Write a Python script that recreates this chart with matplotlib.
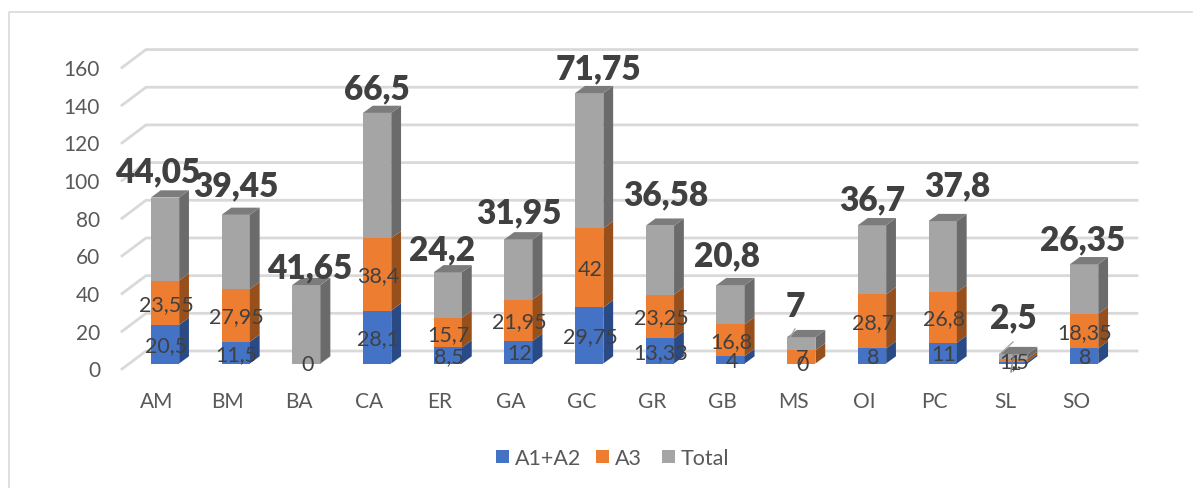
import matplotlib
matplotlib.use('Agg')
import matplotlib.pyplot as plt
from matplotlib.patches import Polygon, Rectangle

# Data
categories = ['AM', 'BM', 'BA', 'CA', 'ER', 'GA', 'GC', 'GR', 'GB', 'MS', 'OI', 'PC', 'SL', 'SO']
a1a2 = [20.5, 11.5, 0, 28.1, 8.5, 12, 29.75, 13.33, 4, 0, 8, 11, 1, 8]
a3 = [23.55, 27.95, 0, 38.4, 15.7, 21.95, 42, 23.25, 16.8, 7, 28.7, 26.8, 1.5, 18.35]
total = [44.05, 39.45, 41.65, 66.5, 24.2, 31.95, 71.75, 36.58, 20.8, 7, 36.7, 37.8, 2.5, 26.35]
a1a2_labels = ['20,5', '11,5', '', '28,1', '8,5', '12', '29,75', '13,33', '4', '0', '8', '11', '1', '8']
a3_labels = ['23,55', '27,95', '0', '38,4', '15,7', '21,95', '42', '23,25', '16,8', '7', '28,7', '26,8', '1,5', '18,35']
total_labels = ['44,05', '39,45', '41,65', '66,5', '24,2', '31,95', '71,75', '36,58', '20,8', '7', '36,7', '37,8', '2,5', '26,35']
y_ticks = [0, 20, 40, 60, 80, 100, 120, 140, 160]

# Where the big labels got dragged to in the original, px away from the bar centre / bar top
total_shift_x = [-7, 0, 3, 0, -6, 0, 9, 6, -4, -6, 0, 15, 0, -1]
total_shift_y = [26, 30, 18, 25, 23, 27, 25, 31, 30, 31, 26, 36, 37, 25]

# Colors: front, side, top
BLUE = ('#4472C4', '#2A4A85')
ORANGE = ('#ED7D31', '#97501C')
GREY = ('#A5A5A5', '#6B6B6B', '#7C7C7C')
COLOR_TEXT = '#404040'
COLOR_TICK = '#595959'
COLOR_GRID = '#D9D9D9'

plt.rcParams['font.family'] = ['Lato', 'DejaVu Sans']

W, H = 1194, 489
fig = plt.figure(figsize=(W / 100, H / 100), dpi=100)
ax = fig.add_axes([0, 0, 1, 1])

# Scales: one category = 70.7 px, one unit = 1.884 px
PX_X = 70.7
PX_Y = 1.884
BASE = 364.5
ax.set_xlim(-165 / PX_X, (W - 165) / PX_X)
ax.set_ylim((BASE - H) / PX_Y, BASE / PX_Y)
ax.axis('off')

bar_w = 28.3 / PX_X
dx = 9.8 / PX_X
dy = 7.2 / PX_Y

# Chart border
ax.plot([9 / W, 9 / W, 1192 / W], [0, 476 / H, 476 / H], transform=ax.transAxes,
        color=COLOR_GRID, lw=1.2, clip_on=False)

# Grid on back wall plus the side wall going to the front
for v in y_ticks:
    y_front = v - 5.5 / PX_Y
    y_back = v + 12.5 / PX_Y
    x_front = (122 - 165) / PX_X
    x_back = (146 - 165) / PX_X
    x_end = (1137 - 165) / PX_X
    ax.plot([x_front, x_back, x_end], [y_front, y_back, y_back], color=COLOR_GRID, lw=2,
            solid_joinstyle='round', zorder=1)
    ax.text((100 - 165) / PX_X, y_front - 0.7, str(v), ha='right', va='center',
            fontsize=15, color=COLOR_TICK)

# Stacked bars with depth
for i, cat in enumerate(categories):
    ax.text(i - 8 / PX_X, -37 / PX_Y, cat, ha='center', va='center',
            fontsize=15, color=COLOR_TICK)
    left = i - bar_w / 2
    right = i + bar_w / 2
    base = 0
    for val, cols in zip([a1a2[i], a3[i], total[i]], [BLUE, ORANGE, GREY]):
        if val == 0:
            continue
        ax.bar(i, val, bar_w, bottom=base, color=cols[0], linewidth=0, zorder=3)
        side = Polygon([(right, base), (right + dx, base + dy), (right + dx, base + val + dy),
                        (right, base + val)], closed=True, facecolor=cols[1], edgecolor='none', zorder=3)
        ax.add_patch(side)
        base += val
    top = Polygon([(left, base), (left + dx, base + dy), (right + dx, base + dy), (right, base)],
                  closed=True, facecolor=GREY[2], edgecolor='none', zorder=3)
    ax.add_patch(top)

# Leader lines left on the two smallest bars
ax.plot([(1013 - 165) / PX_X, (1000 - 165) / PX_X], [(BASE - 343) / PX_Y, (BASE - 355) / PX_Y],
        color='#A6A6A6', lw=1, zorder=4)
ax.plot([(1014 - 165) / PX_X, (1011 - 165) / PX_X], [(BASE - 353) / PX_Y, (BASE - 373) / PX_Y],
        color='#7F7F7F', lw=1, zorder=6)
ax.plot([(795 - 165) / PX_X, (788 - 165) / PX_X], [(BASE - 330) / PX_Y, (BASE - 342) / PX_Y],
        color='#A6A6A6', lw=1, zorder=4)

# Data labels
for i in range(len(categories)):
    y1 = a1a2[i] / 2
    y2 = a1a2[i] + a3[i] / 2
    y3 = a1a2[i] + a3[i] + total[i]
    if a1a2_labels[i]:
        ax.text(i + 1 / PX_X, y1 - 0.5, a1a2_labels[i], ha='center', va='center',
                fontsize=15.5, color=COLOR_TEXT, zorder=5)
    ax.text(i + 1 / PX_X, y2 - 0.5, a3_labels[i], ha='center', va='center',
            fontsize=15.5, color=COLOR_TEXT, zorder=5)
    ax.text(i + total_shift_x[i] / PX_X, y3 + total_shift_y[i] / PX_Y, total_labels[i],
            ha='center', va='center', fontsize=24, fontweight='heavy', color=COLOR_TEXT, zorder=5)

# Legend
legend_x = [496, 596, 662]
legend_names = ['A1+A2', 'A3', 'Total']
legend_cols = [BLUE[0], ORANGE[0], GREY[0]]
for px, name, col in zip(legend_x, legend_names, legend_cols):
    ax.add_patch(Rectangle(((px - 165) / PX_X, (BASE - 464) / PX_Y), 13 / PX_X, 13 / PX_Y,
                           facecolor=col, edgecolor='none'))
    ax.text((px + 18.5 - 165) / PX_X, (BASE - 459.5) / PX_Y, name, ha='left', va='center',
            fontsize=15.5, color=COLOR_TICK)

fig.savefig('out.png', dpi=100)
